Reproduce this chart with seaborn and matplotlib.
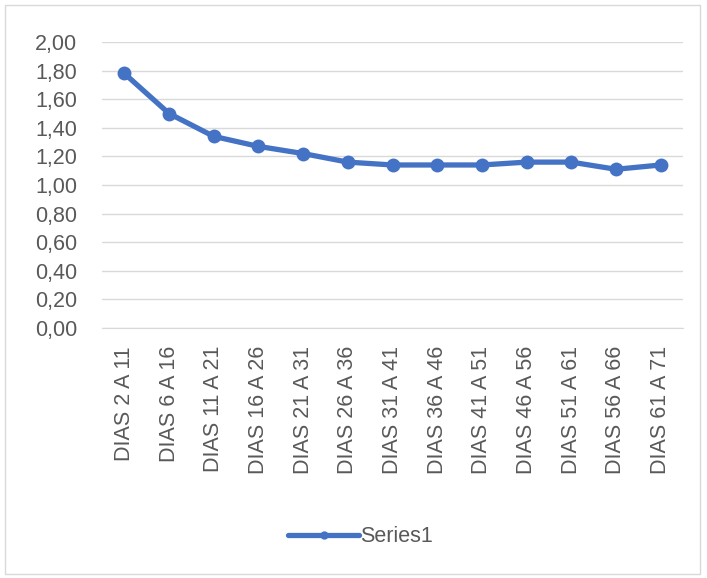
import matplotlib
matplotlib.use("Agg")
import matplotlib.pyplot as plt
import numpy as np
import pandas as pd
import seaborn as sns
from matplotlib.lines import Line2D
from matplotlib.patches import Rectangle
from matplotlib.ticker import FuncFormatter, MultipleLocator

periods = [
    "DIAS 2 A 11", "DIAS 6 A 16", "DIAS 11 A 21", "DIAS 16 A 26",
    "DIAS 21 A 31", "DIAS 26 A 36", "DIAS 31 A 41", "DIAS 36 A 46",
    "DIAS 41 A 51", "DIAS 46 A 56", "DIAS 51 A 61", "DIAS 56 A 66",
    "DIAS 61 A 71",
]
values = [1.78, 1.50, 1.34, 1.27, 1.22, 1.16, 1.14, 1.14, 1.14, 1.16, 1.16, 1.11, 1.14]
series_name = "Series1"

df = pd.DataFrame({"periodo": periods, "valor": values})

sns.set_style("white")
plt.rcParams["font.family"] = ["Liberation Sans", "DejaVu Sans"]

blue = "#4472C4"
text_gray = "#595959"
grid_gray = "#d9d9d9"
fsize = 15.5

fig = plt.figure(figsize=(7.07, 5.78), dpi=100)
ax = fig.add_axes([102 / 707, 1 - 328 / 578, (683 - 102) / 707, (328 - 42) / 578])

sns.lineplot(
    data=df, x="periodo", y="valor", ax=ax, color=blue, linewidth=3.8,
    marker="o", markersize=10, markeredgewidth=0, sort=False,
)

ax.set_ylim(0, 2.0)
ax.set_xlim(-0.5, len(periods) - 0.5)
ax.yaxis.set_major_locator(MultipleLocator(0.2))
ax.yaxis.set_major_formatter(FuncFormatter(lambda v, p: f"{v:.2f}".replace(".", ",")))
ax.grid(axis="y", color=grid_gray, linewidth=1)
ax.set_axisbelow(True)
for side in ["top", "left", "right"]:
    ax.spines[side].set_visible(False)
ax.spines["bottom"].set_color(grid_gray)
ax.tick_params(axis="both", length=0, colors=text_gray, labelsize=fsize)
ax.tick_params(axis="y", pad=18)
ax.tick_params(axis="x", pad=13)
plt.setp(ax.get_xticklabels(), rotation=90)
ax.set_xlabel("")
ax.set_ylabel("")

handle = Line2D([], [], color=blue, linewidth=3.8, marker="o", markersize=6, markeredgewidth=0)
fig.legend(
    [handle], [series_name], loc="center", bbox_to_anchor=(0.51, 1 - 537 / 578),
    frameon=False, fontsize=fsize, labelcolor=text_gray, handlelength=3.3,
    handletextpad=0.05,
)

fig.patches.append(Rectangle((5 / 707, 4 / 578), 695 / 707, 569 / 578,
                             transform=fig.transFigure, fill=False,
                             edgecolor=grid_gray, linewidth=1))

fig.savefig("out.png", dpi=100)
